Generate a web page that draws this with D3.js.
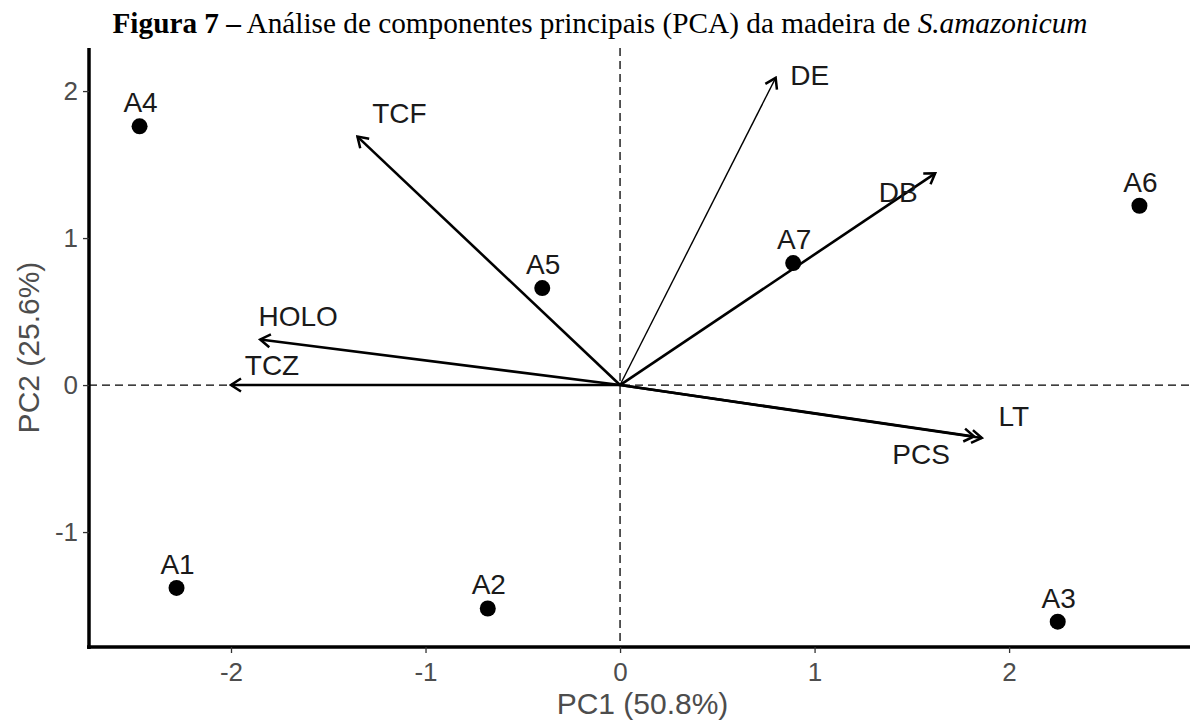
<!DOCTYPE html>
<html>
<head>
<meta charset="utf-8">
<script src="https://cdn.jsdelivr.net/npm/d3@7"></script>
<style>
  body { margin: 0; background: #fff; }
  svg { display: block; }
</style>
</head>
<body>
<script>
// Sample scores (individuals)
const samples = ["A1", "A2", "A3", "A4", "A5", "A6", "A7"];
const samplePC1 = [-2.28, -0.68, 2.25, -2.47, -0.40, 2.67, 0.89];
const samplePC2 = [-1.38, -1.52, -1.61, 1.76, 0.66, 1.22, 0.83];

// Variable loadings (arrows)
const variables = ["TCF", "DE", "DB", "LT", "PCS", "HOLO", "TCZ"];
const varPC1 = [-1.35, 0.80, 1.62, 1.86, 1.82, -1.85, -2.00];
const varPC2 = [1.69, 2.09, 1.44, -0.36, -0.35, 0.31, 0.00];

const xTicks = [-2, -1, 0, 1, 2];
const yTicks = [-1, 0, 1, 2];

// label nudges in px (layout only)
const varNudge = {
  TCF: [42, -23], DE: [34, -3], DB: [-37, 19], LT: [32, -22],
  PCS: [-53, 18], HOLO: [38, -23], TCZ: [41, -20]
};

const width = 1190, height = 721;
const marginLeft = 89, marginRight = 0, marginTop = 48, marginBottom = 74;

const x = d3.scaleLinear([-2.73, 2.93], [marginLeft, width - marginRight]);
const y = d3.scaleLinear([-1.782, 2.293], [height - marginBottom, marginTop]);

const svg = d3.select("body").append("svg")
    .attr("width", width)
    .attr("height", height)
    .attr("viewBox", [0, 0, width, height]);

// Title
const title = svg.append("text")
    .attr("x", 600)
    .attr("y", 33)
    .attr("text-anchor", "middle")
    .attr("font-family", "'Liberation Serif', 'Times New Roman', serif")
    .attr("font-size", 29)
    .attr("textLength", 975)
    .attr("lengthAdjust", "spacingAndGlyphs")
    .attr("fill", "#000");
title.append("tspan").attr("font-weight", "bold").text("Figura 7 –");
title.append("tspan").text(" Análise de componentes principais (PCA) da madeira de ");
title.append("tspan").attr("font-style", "italic").text("S.amazonicum");

const font = "'Liberation Sans', Arial, sans-serif";
const fmt = d => String(d); // plain hyphen minus, as in the original

// Reference dashed lines
svg.append("line")
    .attr("x1", x(0)).attr("x2", x(0))
    .attr("y1", marginTop).attr("y2", height - marginBottom)
    .attr("stroke", "#000").attr("stroke-width", 1.3)
    .attr("stroke-dasharray", "8,5");
svg.append("line")
    .attr("x1", marginLeft).attr("x2", width - marginRight)
    .attr("y1", y(0)).attr("y2", y(0))
    .attr("stroke", "#000").attr("stroke-width", 1.3)
    .attr("stroke-dasharray", "8,5");

// Arrowhead marker
svg.append("defs").append("marker")
    .attr("id", "arrow")
    .attr("viewBox", "-13 -8 15 16")
    .attr("markerUnits", "userSpaceOnUse")
    .attr("markerWidth", 15)
    .attr("markerHeight", 16)
    .attr("refX", 0)
    .attr("refY", 0)
    .attr("orient", "auto")
  .append("path")
    .attr("d", "M-10,-6.5L0,0L-10,6.5")
    .attr("fill", "none")
    .attr("stroke", "#000")
    .attr("stroke-width", 2.5);

const vars = variables.map((v, i) => ({name: v, pc1: varPC1[i], pc2: varPC2[i]}));

svg.append("g")
  .selectAll("line")
  .data(vars)
  .join("line")
    .attr("x1", x(0))
    .attr("y1", y(0))
    .attr("x2", d => x(d.pc1))
    .attr("y2", d => y(d.pc2))
    .attr("stroke", "#000")
    .attr("stroke-width", d => d.name === "DE" ? 1.4 : 2.6)
    .attr("marker-end", "url(#arrow)");

svg.append("g")
  .selectAll("text")
  .data(vars)
  .join("text")
    .attr("x", d => x(d.pc1) + varNudge[d.name][0])
    .attr("y", d => y(d.pc2) + varNudge[d.name][1])
    .attr("dy", "0.35em")
    .attr("text-anchor", "middle")
    .attr("font-family", font)
    .attr("font-size", 28)
    .attr("fill", "#1a1a1a")
    .text(d => d.name);

// Sample points
const pts = samples.map((s, i) => ({name: s, pc1: samplePC1[i], pc2: samplePC2[i]}));

svg.append("g")
  .selectAll("circle")
  .data(pts)
  .join("circle")
    .attr("cx", d => x(d.pc1))
    .attr("cy", d => y(d.pc2))
    .attr("r", 8)
    .attr("fill", "#000");

svg.append("g")
  .selectAll("text")
  .data(pts)
  .join("text")
    .attr("x", d => x(d.pc1) + 1)
    .attr("y", d => y(d.pc2) - 24)
    .attr("dy", "0.35em")
    .attr("text-anchor", "middle")
    .attr("font-family", font)
    .attr("font-size", 28)
    .attr("fill", "#1a1a1a")
    .text(d => d.name);

// Axes
svg.append("g")
    .attr("transform", `translate(0,${height - marginBottom})`)
    .call(d3.axisBottom(x).tickValues(xTicks).tickSize(6).tickPadding(10).tickFormat(fmt))
    .call(g => g.select(".domain").attr("stroke-width", 3.5).attr("d", `M${marginLeft - 2},0H${width}`))
    .call(g => g.selectAll(".tick line").attr("stroke", "#333").attr("stroke-width", 1.3))
    .call(g => g.selectAll(".tick text")
        .attr("font-family", font).attr("font-size", 26).attr("fill", "#4d4d4d"));

svg.append("g")
    .attr("transform", `translate(${marginLeft},0)`)
    .call(d3.axisLeft(y).tickValues(yTicks).tickSize(6).tickPadding(5).tickFormat(fmt))
    .call(g => g.select(".domain").attr("stroke-width", 3.5).attr("d", `M0,${marginTop}V${height - marginBottom + 2}`))
    .call(g => g.selectAll(".tick line").attr("stroke", "#333").attr("stroke-width", 1.3))
    .call(g => g.selectAll(".tick text")
        .attr("font-family", font).attr("font-size", 26).attr("fill", "#4d4d4d"));

// Axis titles
svg.append("text")
    .attr("x", (marginLeft + width) / 2 + 3)
    .attr("y", 714)
    .attr("text-anchor", "middle")
    .attr("font-family", font)
    .attr("font-size", 30)
    .attr("fill", "#4d4d4d")
    .text("PC1 (50.8%)");

svg.append("text")
    .attr("transform", `translate(28,${(marginTop + height - marginBottom) / 2}) rotate(-90)`)
    .attr("dy", "0.35em")
    .attr("text-anchor", "middle")
    .attr("font-family", font)
    .attr("font-size", 30)
    .attr("fill", "#4d4d4d")
    .text("PC2 (25.6%)");
</script>
</body>
</html>
